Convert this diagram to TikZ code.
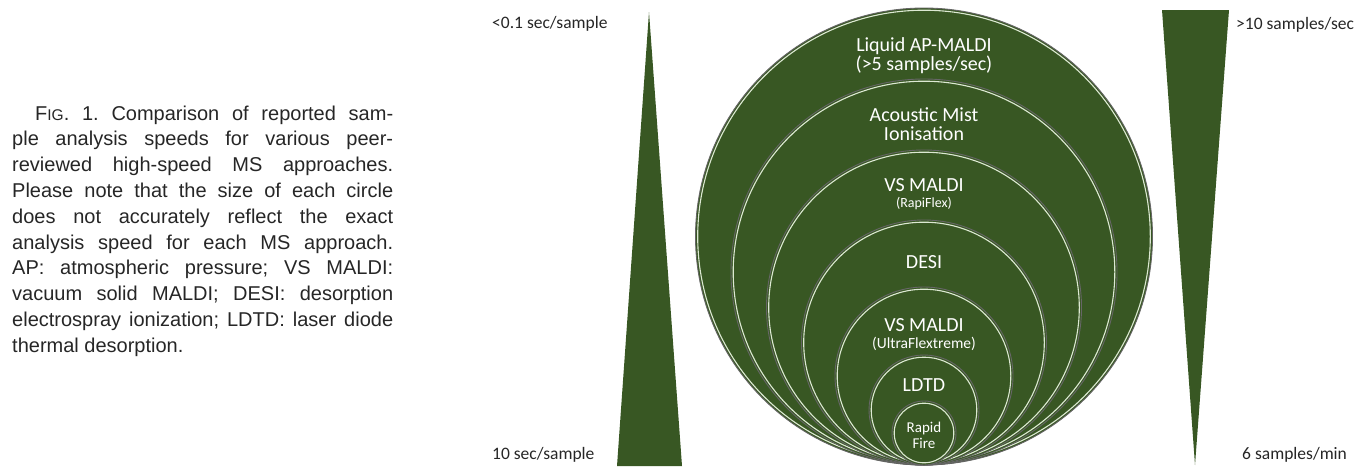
\documentclass[tikz,border=0pt]{standalone}
\usepackage{fontspec}
\setmainfont{Liberation Sans}
\newfontfamily\calib{Carlito}
\newfontfamily\capfont{Liberation Sans}
\definecolor{dgreen}{HTML}{385723}
\definecolor{hilite}{HTML}{DCE8D2}
\frenchspacing
\begin{document}
\begin{tikzpicture}[x=1pt,y=-1pt,
  ring/.style={fill=dgreen,draw=black!60,line width=0.9pt},
  shine/.style={draw=hilite,line width=1.1pt},
  wedge/.style={fill=dgreen,draw=none},
  inner/.style={text=white,font=\calib\fontsize{20}{19}\selectfont,align=center,inner sep=0pt},
  small/.style={text=white,font=\calib\fontsize{14}{15}\selectfont,align=center,inner sep=0pt},
  side/.style={text=black!85,font=\calib\fontsize{17.5}{20}\selectfont,anchor=west,inner sep=0pt}]
\useasboundingbox (0,0) rectangle (1357,466);
% caption
\node[anchor=base west,text width=381pt,inner sep=0pt,align=justify,
      font=\capfont\fontsize{20}{25.8}\selectfont,text=black!85] (cap) at (12,120)
 {\hspace*{23pt}F{\fontsize{15.5}{25.8}\selectfont IG}. 1. Comparison of reported sam-\linebreak
 ple analysis speeds for various peer-\linebreak
 reviewed high-speed MS approaches.\linebreak
 Please note that the size of each circle\linebreak
 does not accurately reflect the exact\linebreak
 analysis speed for each MS approach.\linebreak
 AP: atmospheric pressure; VS MALDI:\linebreak
 vacuum solid MALDI; DESI: desorption\linebreak
 electrospray ionization; LDTD: laser diode\linebreak
 thermal desorption.};
% wedges
\coordinate (la) at (649,12);
\coordinate (lb1) at (617,466);
\coordinate (lb2) at (682,466);
\fill[wedge] (la) -- (lb1) -- (lb2) -- cycle;
\coordinate (ra1) at (1162,10);
\coordinate (ra2) at (1229,10);
\coordinate (rb) at (1195,465);
\fill[wedge] (ra1) -- (ra2) -- (rb) -- cycle;
% side labels
\node[side] (t1) at (492,24) {<0.1 sec/sample};
\node[side] (t2) at (492,455) {10 sec/sample};
\node[side] (t3) at (1236,25) {>10 samples/sec};
\node[side] (t4) at (1242,455) {6 samples/min};
% circles
\foreach \r in {228.5,193,157.5,122.5,89,55,32}{
  \draw[ring] (924,465-\r) circle (\r);
  \draw[shine] (924,465-\r) circle (\r-2.2);
}
% labels
\node[inner] (c1) at (924,56) {Liquid AP-MALDI\\(>5 samples/sec)};
\node[inner] (c2) at (924,124) {Acoustic Mist\\Ionisation};
\node[inner] (c3) at (924,185) {VS MALDI};
\node[small] (c3b) at (924,204) {(RapiFlex)};
\node[inner] (c4) at (924,262) {DESI};
\node[inner] (c5) at (924,325) {VS MALDI};
\node[small,font=\calib\fontsize{15.5}{16}\selectfont] (c5b) at (924,344) {(UltraFlextreme)};
\node[inner] (c6) at (924,385) {LDTD};
\node[small,font=\calib\fontsize{15}{16}\selectfont] (c7) at (924,435) {Rapid\\Fire};
\end{tikzpicture}
\end{document}
